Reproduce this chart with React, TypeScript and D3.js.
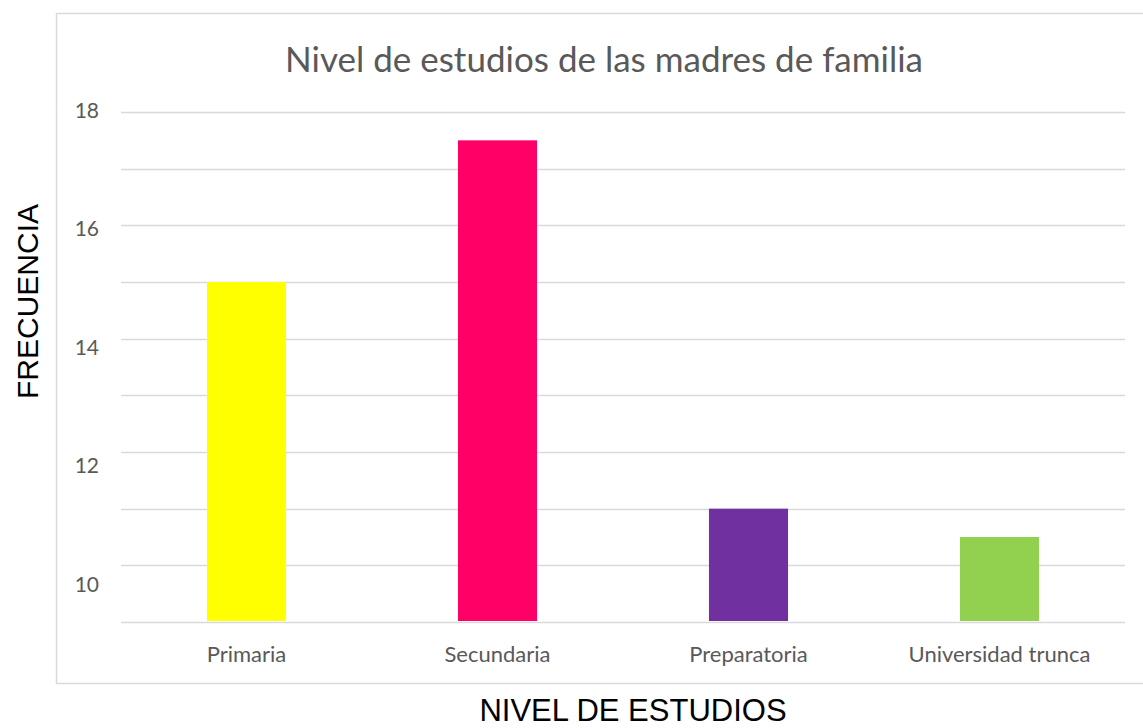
import * as d3 from "d3";
import { useEffect, useRef } from "react";

const categories = ["Primaria", "Secundaria", "Preparatoria", "Universidad trunca"];
const values = [15, 17.5, 11, 10.5];
const barColors = ["#FFFF00", "#FF0066", "#7030A0", "#92D050"];
const gridValues = [9, 10, 11, 12, 13, 14, 15, 16, 17, 18];
const tickLabels = [10, 12, 14, 16, 18];

const title = "Nivel de estudios de las madres de familia";
const xTitle = "NIVEL DE ESTUDIOS";
const yTitle = "FRECUENCIA";

export default function App() {
  const ref = useRef<SVGSVGElement>(null);

  useEffect(() => {
    if (!ref.current) return;
    const svg = d3.select(ref.current);
    svg.selectAll("*").remove();

    const width = 1143,
      height = 728;
    const plot = { left: 121, right: 1125, top: 112, bottom: 622 };
    const labelFont = "Lato, 'Open Sans', sans-serif";
    const grey = "#595959";

    svg.append("rect").attr("width", width).attr("height", height).attr("fill", "#fff");

    // chart frame
    svg
      .append("rect")
      .attr("x", 56.5)
      .attr("y", 13.5)
      .attr("width", 1100)
      .attr("height", 670)
      .attr("fill", "none")
      .attr("stroke", "#D9D9D9")
      .attr("stroke-width", 1.5);

    const x = d3
      .scaleBand()
      .domain(categories)
      .range([plot.left, plot.right])
      .paddingInner(0.685)
      .paddingOuter(0.3425);

    const y = d3.scaleLinear().domain([9, 18]).range([plot.bottom, plot.top]);
    // the value labels sit on their own slightly stretched scale in the original
    const yLabel = d3.scaleLinear().domain([10, 18]).range([584.5, 110.5]);

    // grid lines
    svg
      .append("g")
      .selectAll("line")
      .data(gridValues)
      .join("line")
      .attr("x1", plot.left)
      .attr("x2", plot.right)
      .attr("y1", (d) => Math.round(y(d)) + 0.5)
      .attr("y2", (d) => Math.round(y(d)) + 0.5)
      .attr("stroke", "#D9D9D9")
      .attr("stroke-width", 1.6);

    // bars
    svg
      .append("g")
      .selectAll("rect")
      .data(values)
      .join("rect")
      .attr("x", (d, i) => x(categories[i])!)
      .attr("y", (d) => y(d))
      .attr("width", x.bandwidth())
      .attr("height", (d) => y(9) - y(d) - 1)
      .attr("fill", (d, i) => barColors[i]);

    // y tick labels
    svg
      .append("g")
      .selectAll("text")
      .data(tickLabels)
      .join("text")
      .attr("x", 99)
      .attr("y", (d) => yLabel(d))
      .attr("dy", "0.35em")
      .attr("text-anchor", "end")
      .attr("fill", grey)
      .attr("font-family", labelFont)
      .attr("font-size", "21px")
      .text((d) => d);

    // category labels
    svg
      .append("g")
      .selectAll("text")
      .data(categories)
      .join("text")
      .attr("x", (d) => x(d)! + x.bandwidth() / 2)
      .attr("y", 662)
      .attr("text-anchor", "middle")
      .attr("fill", grey)
      .attr("font-family", labelFont)
      .attr("font-size", "22px")
      .text((d) => d);

    // title
    svg
      .append("text")
      .attr("x", 604)
      .attr("y", 72)
      .attr("text-anchor", "middle")
      .attr("fill", grey)
      .attr("font-family", labelFont)
      .attr("font-size", "35px")
      .text(title);

    // axis titles
    svg
      .append("text")
      .attr("x", 633)
      .attr("y", 721)
      .attr("text-anchor", "middle")
      .attr("fill", "#000")
      .attr("font-family", "'Liberation Sans', Arial, sans-serif")
      .attr("font-size", "31px")
      .text(xTitle);

    svg
      .append("text")
      .attr("transform", "translate(38, 301.5) rotate(-90)")
      .attr("text-anchor", "middle")
      .attr("fill", "#000")
      .attr("font-family", "'Liberation Sans', Arial, sans-serif")
      .attr("font-size", "30px")
      .text(yTitle);
  }, []);

  return (
    <svg
      ref={ref}
      width={1143}
      height={728}
      style={{ position: "absolute", left: 0, top: 0 }}
    />
  );
}
